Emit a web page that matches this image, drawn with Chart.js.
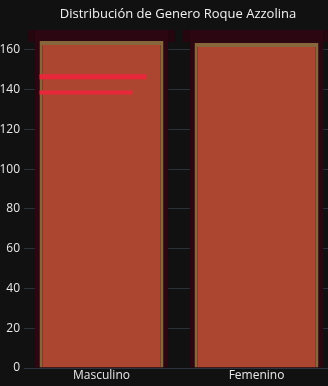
<!DOCTYPE html>
<html>
<head>
<meta charset="utf-8">
<script src="https://cdn.jsdelivr.net/npm/chart.js@4/dist/chart.umd.min.js"></script>
<style>
  html, body { margin: 0; padding: 0; background: #111111; overflow: hidden; }
  #wrap { width: 334px; height: 386px; position: relative; }
</style>
</head>
<body>
<div id="wrap"><canvas id="canvas"></canvas></div>
<script>
// data
var categories = ["Masculino", "Femenino"];
var totalCounts = [170, 170];      // dark red band behind the bars
var topBand = [[164, 170], [164, 170]];
var genderCounts = [164.5, 163.5]; // main bars
var streakA = [{ x: -0.4, y: 146.5 }, { x: 0.29, y: 146.5 }];
var streakB = [{ x: -0.4, y: 138.5 }, { x: 0.2, y: 138.5 }];
var yTicks = [0, 20, 40, 60, 80, 100, 120, 140, 160];
var chartTitle = "Distribución de Genero Roque Azzolina";

(function(){
	var canvas = document.getElementById("canvas");

	// title centred over the plot area, like plotly does
	var titlePlugin = {
		id: "plotTitle",
		afterDraw: function(chart){
			var ctx = chart.ctx;
			ctx.save();
			ctx.font = "13px 'Open Sans'";
			ctx.fillStyle = "#f2f2f2";
			ctx.textAlign = "center";
			ctx.textBaseline = "middle";
			ctx.fillText(chartTitle, 178, 14);
			ctx.restore();
		}
	};

	var config = {
		type: "bar",
		data: {
			labels: categories,
			datasets: [{
				type: "line",
				label: "a",
				data: streakA,
				xAxisID: "x2",
				borderColor: "#e8283a",
				borderWidth: 5,
				pointRadius: 0,
				order: 0
			}, {
				type: "line",
				label: "b",
				data: streakB,
				xAxisID: "x2",
				borderColor: "#e8283a",
				borderWidth: 4,
				pointRadius: 0,
				order: 0
			}, {
				label: "Total",
				data: genderCounts,
				backgroundColor: "#ad4630",
				borderColor: "#86663a",
				borderWidth: { top: 4, left: 3, right: 3, bottom: 0 },
				borderSkipped: false,
				barPercentage: 0.8,
				categoryPercentage: 1,
				grouped: false,
				order: 1
			}, {
				label: "Fondo",
				data: totalCounts,
				backgroundColor: "#2c0610",
				borderWidth: 0,
				barPercentage: 0.86,
				categoryPercentage: 1,
				grouped: false,
				order: 2
			}, {
				label: "Banda",
				data: topBand,
				backgroundColor: "#25060e",
				borderWidth: 0,
				barPercentage: 0.95,
				categoryPercentage: 1,
				grouped: false,
				order: 3
			}]
		},
		options: {
			responsive: true,
			maintainAspectRatio: false,
			animation: false,
			layout: { padding: { top: 28, right: 0, left: 0, bottom: 0 } },
			plugins: {
				legend: { display: false },
				title: { display: false },
				tooltip: { enabled: false }
			},
			scales: {
				x: {
					grid: { display: false, drawTicks: false },
					border: { color: "#2e3440", width: 1 },
					ticks: { color: "#e8e8e8", font: { family: "'Open Sans'", size: 12 }, padding: 0 },
					afterFit: function(scale){ scale.height = 18; }
				},
				x2: {
					type: "linear",
					display: false,
					offset: false,
					min: -0.5,
					max: 1.5
				},
				y: {
					min: 0,
					max: 171,
					afterBuildTicks: function(scale){
						scale.ticks = yTicks.map(function(v){ return { value: v }; });
					},
					grid: { color: "#2b313a", drawTicks: false },
					border: { display: false },
					ticks: { color: "#e8e8e8", font: { family: "'Open Sans'", size: 12 }, padding: 4 },
					afterFit: function(scale){ scale.width = 24; }
				}
			}
		},
		plugins: [titlePlugin]
	};

	new Chart(canvas, config);
}());
</script>
</body>
</html>
